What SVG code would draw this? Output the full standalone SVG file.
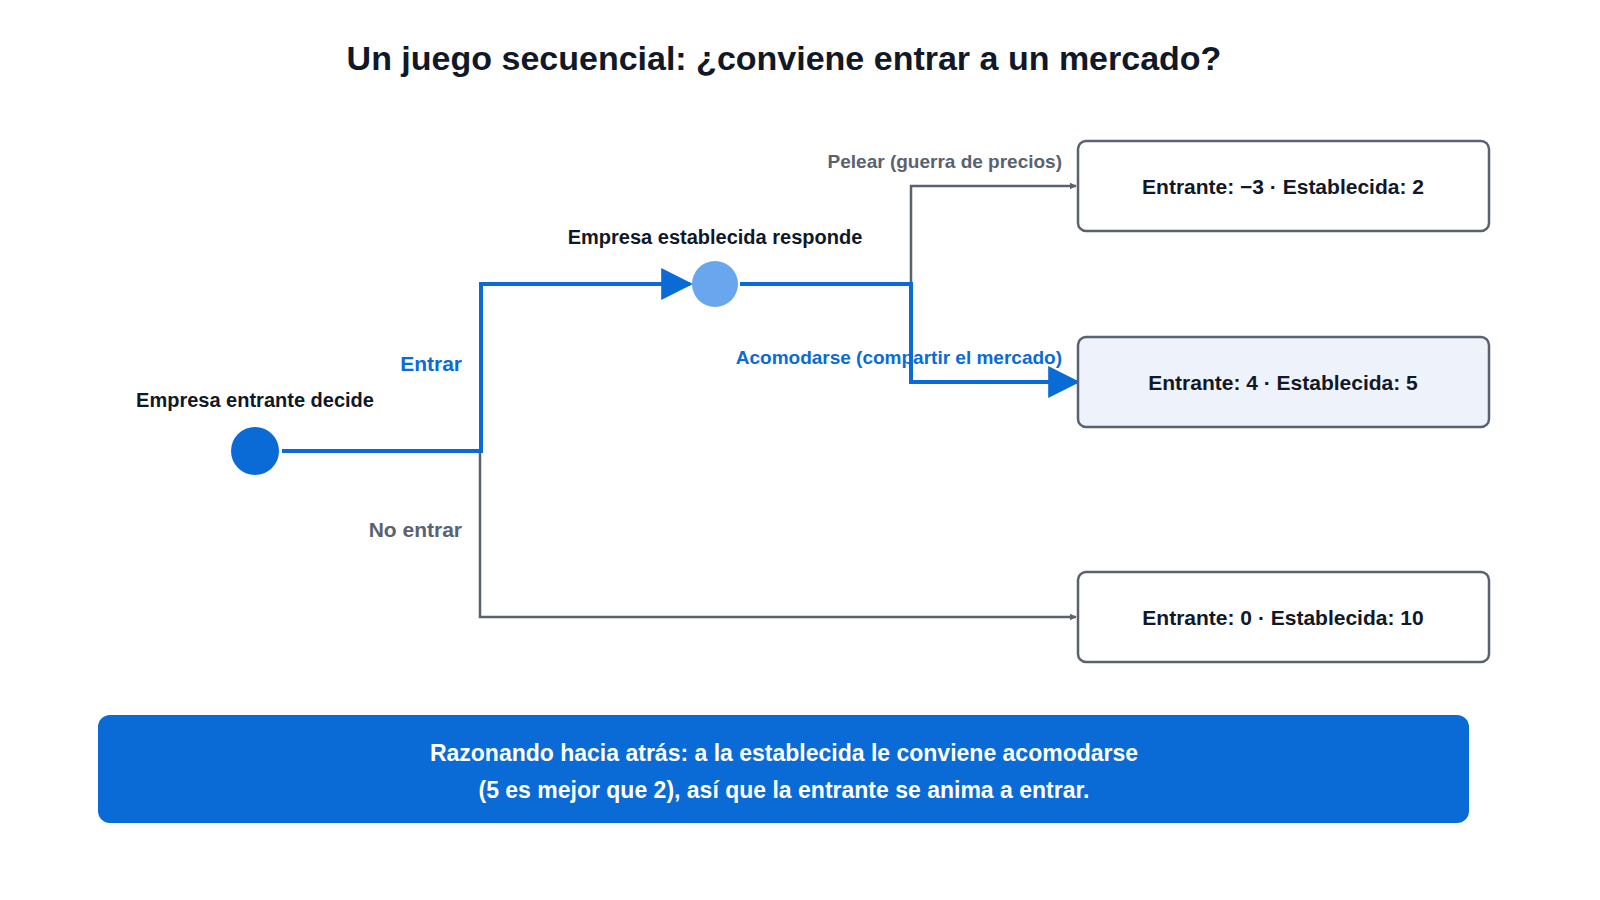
<svg xmlns="http://www.w3.org/2000/svg" width="1600" height="900" viewBox="0 0 1600 900">
<style>
text{font-family:"Liberation Sans",Arial,sans-serif;font-weight:bold}
.box{fill:#fff;stroke:#5a6270;stroke-width:2.5}
.gray{fill:none;stroke:#5a6270;stroke-width:2.5}
.blue{fill:none;stroke:#0a6bd6;stroke-width:4}
.lbl{font-size:20px;fill:#111827}
.pay{font-size:21px;fill:#111827;text-anchor:middle}
</style>
<defs>
<marker id="ag" viewBox="0 0 10 10" refX="9" refY="5" markerWidth="7" markerHeight="7" markerUnits="userSpaceOnUse" orient="auto"><path d="M0,0L10,5L0,10z" fill="#5a6270"/></marker>
<marker id="ab" viewBox="0 0 10 10" refX="9" refY="5" markerWidth="32" markerHeight="38" markerUnits="userSpaceOnUse" orient="auto"><path d="M0,0L10,5L0,10z" fill="#0a6bd6"/></marker>
</defs>
<rect width="1600" height="900" fill="#fff"/>
<text x="784" y="70" font-size="34" fill="#111827" text-anchor="middle">Un juego secuencial: ¿conviene entrar a un mercado?</text>
<g id="connectors">
<path class="gray" d="M480,451V617H1076" marker-end="url(#ag)"/>
<path class="gray" d="M740,284H911V186H1076" marker-end="url(#ag)"/>
<path class="blue" d="M282,451H481V284H690" marker-end="url(#ab)"/>
<path class="blue" d="M740,284H911V382H1077" marker-end="url(#ab)"/>
<text x="462" y="371" font-size="21" fill="#0a6bd6" text-anchor="end">Entrar</text>
<text x="462" y="537" font-size="21" fill="#5a6270" text-anchor="end">No entrar</text>
<text x="1062" y="168" font-size="19" fill="#5a6270" text-anchor="end">Pelear (guerra de precios)</text>
<text x="1062" y="364" font-size="19" fill="#0a6bd6" text-anchor="end">Acomodarse (compartir el mercado)</text>
</g>
<g id="n1"><circle cx="255" cy="451" r="24" fill="#0a6bd6"/><text class="lbl" x="255" y="407" text-anchor="middle" font-size="22">Empresa entrante decide</text></g>
<g id="n2"><circle cx="715" cy="284" r="23" fill="#6aa6ee"/><text class="lbl" x="715" y="244" text-anchor="middle" font-size="21">Empresa establecida responde</text></g>
<g id="p1"><rect class="box" x="1078" y="141" width="411" height="90" rx="8"/><text class="pay" x="1283" y="194">Entrante: −3 · Establecida: 2</text></g>
<g id="p2"><rect class="box" x="1078" y="337" width="411" height="90" rx="8" fill="#eef3fb" style="fill:#eef3fb"/><text class="pay" x="1283" y="390">Entrante: 4 · Establecida: 5</text></g>
<g id="p3"><rect class="box" x="1078" y="572" width="411" height="90" rx="8"/><text class="pay" x="1283" y="625">Entrante: 0 · Establecida: 10</text></g>
<g id="note"><rect x="98" y="715" width="1371" height="108" rx="12" fill="#0a6bd6"/>
<text x="784" y="761" font-size="23" fill="#fff" text-anchor="middle">Razonando hacia atrás: a la establecida le conviene acomodarse</text>
<text x="784" y="798" font-size="23" fill="#fff" text-anchor="middle">(5 es mejor que 2), así que la entrante se anima a entrar.</text></g>
</svg>
